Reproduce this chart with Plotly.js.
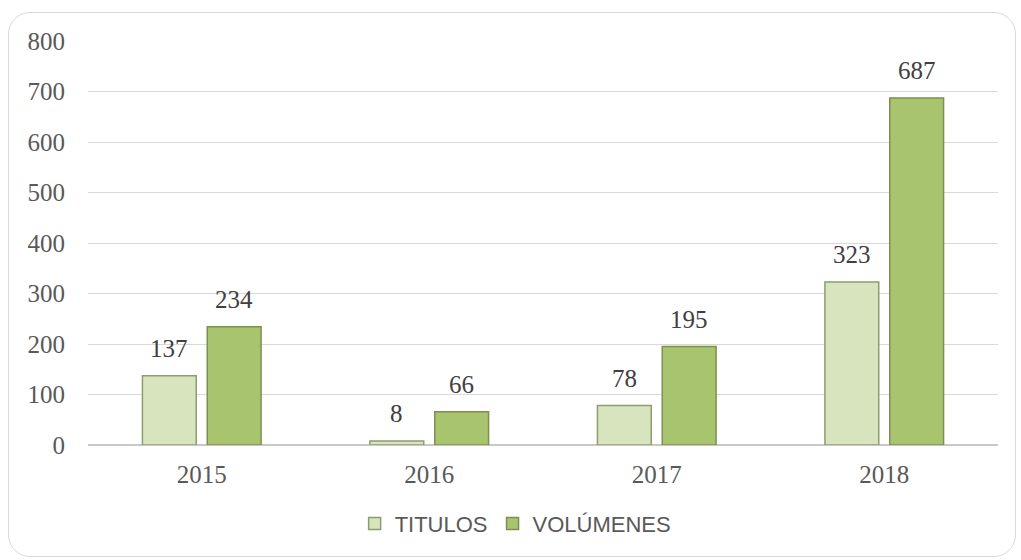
<!DOCTYPE html>
<html>
<head>
<meta charset="utf-8">
<script src="https://cdn.plot.ly/plotly-3.0.1.min.js"></script>
<style>
  html, body { margin: 0; padding: 0; background: #fff; }
  .frame {
    position: absolute; left: 8px; top: 12px; width: 1008px; height: 545px;
    border: 1.5px solid #d9d9d9; border-radius: 22px; box-sizing: border-box;
  }
  #chart { position: absolute; left: 0; top: 0; width: 1021px; height: 560px; }
</style>
</head>
<body>
<div class="frame"></div>
<div id="chart"></div>
<script>
const years = ['2015', '2016', '2017', '2018'];
const titulos = [137, 8, 78, 323];
const volumenes = [234, 66, 195, 687];
const seriesNames = ['TITULOS', 'VOLÚMENES'];

const serif = '"Liberation Serif", "DejaVu Serif", serif';
const sans = '"Liberation Sans", Arial, sans-serif';

const traces = [
  {
    type: 'bar', name: seriesNames[0], x: years, y: titulos,
    marker: { color: '#d7e4bd', line: { color: '#8e9c70', width: 1.5 } },
    hoverinfo: 'skip'
  },
  {
    type: 'bar', name: seriesNames[1], x: years, y: volumenes,
    marker: { color: '#a9c46f', line: { color: '#7d9050', width: 1.5 } },
    hoverinfo: 'skip'
  }
];

// value labels above each bar (x given as category index)
const labelFont = { family: serif, size: 25, color: '#404040' };
const annotations = [];
[titulos, volumenes].forEach((vals, s) => {
  vals.forEach((v, i) => {
    annotations.push({
      x: i, y: v, xref: 'x', yref: 'y',
      text: String(v), showarrow: false,
      xshift: s === 0 ? -32.5 : 32.5, yanchor: 'bottom', yshift: 12,
      font: labelFont
    });
  });
});

const layout = {
  width: 1021, height: 560,
  margin: { l: 88, r: 23, t: 41, b: 115 },
  paper_bgcolor: 'rgba(0,0,0,0)',
  plot_bgcolor: 'rgba(0,0,0,0)',
  barmode: 'group',
  bargap: 0.43,
  bargroupgap: 0.17,
  xaxis: {
    type: 'category',
    range: [-0.5, 3.5],
    showgrid: false, zeroline: false, showline: false,
    ticks: '', ticklabelstandoff: 12,
    tickfont: { family: serif, size: 25, color: '#595959' }
  },
  yaxis: {
    range: [0, 800], dtick: 100,
    showgrid: true, gridcolor: '#d9d9d9', gridwidth: 1,
    zeroline: true, zerolinecolor: '#c8c8c8', zerolinewidth: 1.5,
    showline: false, ticks: '', ticklabelstandoff: 22,
    tickfont: { family: serif, size: 25, color: '#595959' }
  },
  showlegend: true,
  legend: {
    orientation: 'h', x: 0.293, xanchor: 'left', y: -0.195, yanchor: 'middle',
    font: { family: sans, size: 22, color: '#595959' },
    itemwidth: 30, traceorder: 'normal'
  },
  annotations: annotations
};

Plotly.newPlot('chart', traces, layout, { staticPlot: true });
</script>
</body>
</html>
